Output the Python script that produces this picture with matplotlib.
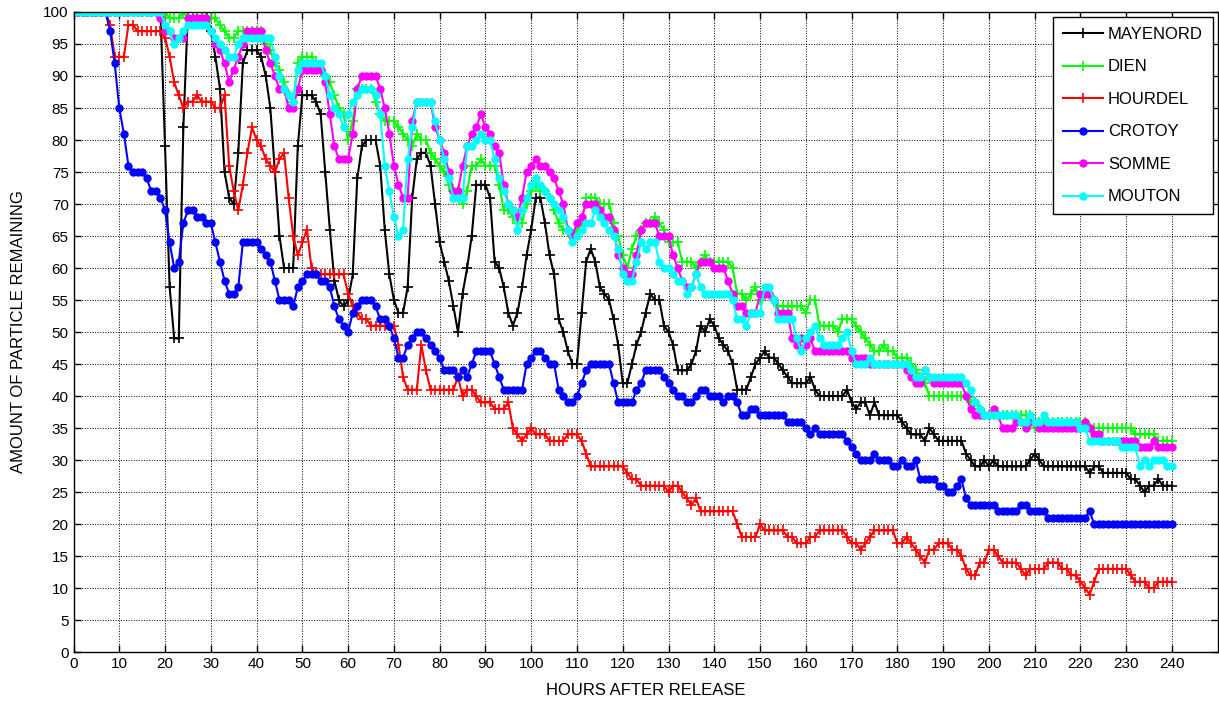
import numpy as np
import matplotlib
matplotlib.use('Agg')
import matplotlib.pyplot as plt

plt.rcParams['font.family'] = ['Liberation Sans', 'DejaVu Sans']

hours = np.arange(0, 241)

mayenord = [
    100, 100, 100, 100, 100, 100, 100, 100, 100, 100,
    100, 100, 100, 100, 100, 100, 100, 100, 100, 100,
    79, 57, 49, 49, 82, 100, 100, 100, 100, 100,
    97, 93, 88, 75, 71, 70, 78, 92, 94, 94,
    94, 93, 90, 85, 75, 65, 60, 60, 60, 79,
    87, 87, 87, 86, 84, 75, 66, 58, 55, 54,
    55, 59, 74, 79, 80, 80, 80, 76, 66, 59,
    55, 53, 53, 57, 71, 77, 78, 78, 76, 70,
    64, 61, 58, 54, 50, 56, 60, 65, 73, 73,
    73, 71, 61, 60, 57, 53, 51, 53, 57, 62,
    66, 71, 71, 67, 62, 59, 52, 50, 47, 45,
    45, 53, 61, 63, 61, 57, 56, 55, 52, 48,
    42, 42, 45, 48, 50, 53, 56, 55, 55, 51,
    50, 48, 44, 44, 44, 45, 47, 51, 50, 52,
    51, 49, 48, 47, 45, 41, 41, 41, 43, 45,
    46, 47, 46, 46, 45, 44, 43, 42, 42, 42,
    42, 43, 41, 40, 40, 40, 40, 40, 40, 41,
    39, 38, 39, 39, 37, 39, 37, 37, 37, 37,
    37, 36, 35, 34, 34, 34, 33, 35, 34, 33,
    33, 33, 33, 33, 33, 31, 30, 29, 29, 30,
    29, 30, 29, 29, 29, 29, 29, 29, 29, 30,
    31, 30, 29, 29, 29, 29, 29, 29, 29, 29,
    29, 29, 28, 29, 29, 28, 28, 28, 28, 28,
    28, 27, 27, 26, 25, 26, 26, 27, 26, 26,
    26]

dien = [
    100, 100, 100, 100, 100, 100, 100, 100, 100, 100,
    100, 100, 100, 100, 100, 100, 100, 100, 100, 100,
    100, 99, 99, 99, 100, 99, 99, 99, 99, 99,
    99, 99, 98, 97, 96, 96, 97, 97, 97, 97,
    97, 97, 95, 94, 92, 91, 89, 87, 86, 92,
    93, 93, 93, 92, 91, 90, 89, 87, 85, 84,
    80, 83, 88, 88, 88, 88, 86, 84, 83, 83,
    83, 82, 81, 80, 79, 81, 80, 80, 78, 77,
    76, 75, 73, 72, 72, 70, 72, 76, 76, 77,
    76, 76, 76, 73, 69, 69, 68, 67, 67, 70,
    72, 73, 72, 72, 71, 69, 67, 66, 66, 65,
    66, 67, 71, 71, 71, 70, 70, 70, 67, 65,
    62, 60, 63, 65, 66, 67, 67, 68, 67, 66,
    64, 64, 64, 61, 61, 61, 60, 61, 62, 61,
    61, 61, 61, 61, 60, 56, 56, 55, 56, 57,
    55, 56, 56, 55, 54, 54, 54, 54, 54, 54,
    53, 55, 55, 51, 51, 51, 51, 50, 52, 52,
    52, 51, 50, 49, 48, 47, 47, 48, 47, 47,
    46, 46, 46, 45, 44, 43, 42, 40, 40, 40,
    40, 40, 40, 40, 40, 40, 39, 39, 38, 37,
    37, 37, 37, 37, 37, 37, 37, 37, 37, 37,
    35, 36, 36, 36, 36, 36, 36, 36, 36, 36,
    36, 36, 35, 35, 35, 35, 35, 35, 35, 35,
    35, 35, 34, 34, 34, 34, 34, 33, 33, 33,
    33]

hourdel = [
    100, 100, 100, 100, 100, 100, 100, 100, 98, 93,
    93, 93, 98, 98, 97, 97, 97, 97, 97, 97,
    96, 93, 89, 87, 85, 86, 86, 87, 86, 86,
    86, 85, 85, 87, 76, 72, 69, 73, 78, 82,
    80, 79, 77, 76, 75, 77, 78, 71, 65, 62,
    64, 66, 60, 59, 59, 59, 59, 59, 59, 59,
    56, 54, 53, 52, 52, 51, 51, 51, 51, 51,
    51, 48, 43, 41, 41, 41, 48, 44, 41, 41,
    41, 41, 41, 41, 43, 40, 41, 41, 40, 39,
    39, 39, 38, 38, 38, 39, 35, 34, 33, 34,
    35, 34, 34, 34, 33, 33, 33, 33, 34, 34,
    34, 33, 31, 29, 29, 29, 29, 29, 29, 29,
    29, 28, 27, 27, 26, 26, 26, 26, 26, 26,
    25, 26, 26, 25, 24, 23, 24, 22, 22, 22,
    22, 22, 22, 22, 22, 20, 18, 18, 18, 18,
    20, 19, 19, 19, 19, 19, 18, 18, 17, 17,
    17, 18, 18, 19, 19, 19, 19, 19, 19, 18,
    17, 17, 16, 17, 18, 19, 19, 19, 19, 19,
    17, 17, 18, 17, 16, 15, 14, 16, 16, 17,
    17, 17, 16, 16, 15, 13, 12, 12, 14, 14,
    16, 16, 15, 14, 14, 14, 14, 13, 12, 13,
    13, 13, 13, 14, 14, 14, 13, 13, 12, 12,
    11, 10, 9, 11, 13, 13, 13, 13, 13, 13,
    13, 12, 11, 11, 11, 10, 10, 11, 11, 11,
    11]

crotoy = [
    100, 100, 100, 100, 100, 100, 100, 100, 97, 92,
    85, 81, 76, 75, 75, 75, 74, 72, 72, 71,
    69, 64, 60, 61, 67, 69, 69, 68, 68, 67,
    67, 64, 61, 58, 56, 56, 57, 64, 64, 64,
    64, 63, 62, 61, 58, 55, 55, 55, 54, 57,
    58, 59, 59, 59, 58, 58, 57, 54, 52, 51,
    50, 53, 54, 55, 55, 55, 54, 52, 52, 51,
    49, 46, 46, 48, 49, 50, 50, 49, 48, 47,
    46, 44, 44, 44, 43, 44, 43, 45, 47, 47,
    47, 47, 45, 43, 41, 41, 41, 41, 41, 45,
    46, 47, 47, 46, 45, 45, 41, 40, 39, 39,
    40, 42, 44, 45, 45, 45, 45, 45, 42, 39,
    39, 39, 39, 41, 42, 44, 44, 44, 44, 43,
    42, 41, 40, 40, 39, 39, 40, 41, 41, 40,
    40, 40, 39, 40, 40, 39, 37, 37, 38, 38,
    37, 37, 37, 37, 37, 37, 36, 36, 36, 36,
    35, 34, 35, 34, 34, 34, 34, 34, 34, 33,
    32, 31, 30, 30, 30, 31, 30, 30, 30, 29,
    29, 30, 29, 29, 30, 27, 27, 27, 27, 26,
    26, 25, 25, 26, 27, 24, 23, 23, 23, 23,
    23, 23, 22, 22, 22, 22, 22, 23, 23, 22,
    22, 22, 22, 21, 21, 21, 21, 21, 21, 21,
    21, 21, 22, 20, 20, 20, 20, 20, 20, 20,
    20, 20, 20, 20, 20, 20, 20, 20, 20, 20,
    20]

somme = [
    100, 100, 100, 100, 100, 100, 100, 100, 100, 100,
    100, 100, 100, 100, 100, 100, 100, 100, 100, 99,
    97, 97, 96, 96, 96, 99, 99, 99, 99, 99,
    97, 95, 94, 92, 89, 91, 93, 95, 97, 97,
    97, 97, 94, 92, 90, 88, 88, 85, 85, 88,
    91, 91, 91, 91, 91, 89, 84, 79, 77, 77,
    77, 81, 88, 90, 90, 90, 90, 88, 85, 81,
    76, 73, 71, 71, 83, 86, 86, 86, 86, 82,
    80, 78, 75, 72, 72, 76, 79, 81, 82, 84,
    82, 81, 79, 78, 73, 70, 69, 68, 71, 75,
    76, 77, 76, 76, 75, 74, 72, 70, 66, 65,
    67, 68, 70, 70, 70, 69, 68, 68, 66, 62,
    60, 59, 59, 62, 66, 67, 67, 67, 65, 65,
    65, 62, 60, 58, 57, 57, 59, 61, 61, 61,
    60, 60, 60, 58, 56, 54, 54, 53, 53, 53,
    56, 56, 56, 55, 53, 53, 53, 49, 48, 49,
    48, 49, 47, 47, 47, 47, 47, 47, 47, 47,
    46, 46, 46, 46, 45, 45, 45, 45, 45, 45,
    45, 45, 44, 43, 42, 42, 44, 43, 42, 42,
    42, 42, 42, 42, 42, 40, 38, 37, 37, 37,
    37, 38, 37, 35, 35, 35, 36, 36, 35, 36,
    36, 35, 35, 35, 35, 35, 35, 35, 35, 35,
    35, 36, 35, 34, 34, 33, 33, 33, 33, 33,
    33, 33, 33, 32, 32, 32, 33, 32, 32, 32,
    32]

mouton = [
    100, 100, 100, 100, 100, 100, 100, 100, 100, 100,
    100, 100, 100, 100, 100, 100, 100, 100, 100, 100,
    98, 97, 95, 96, 97, 98, 98, 98, 98, 98,
    97, 96, 95, 94, 93, 93, 95, 96, 96, 96,
    96, 96, 96, 96, 93, 90, 88, 87, 86, 91,
    92, 92, 92, 92, 92, 90, 87, 85, 84, 82,
    84, 86, 87, 88, 88, 88, 87, 84, 76, 72,
    68, 65, 66, 77, 82, 86, 86, 86, 86, 83,
    80, 77, 74, 71, 71, 71, 79, 79, 80, 81,
    80, 80, 77, 74, 72, 70, 69, 66, 69, 71,
    73, 74, 73, 72, 71, 70, 69, 68, 66, 64,
    65, 66, 67, 67, 69, 68, 67, 66, 65, 63,
    59, 58, 58, 61, 64, 63, 64, 64, 61, 60,
    60, 59, 58, 58, 56, 57, 59, 57, 56, 56,
    56, 56, 56, 56, 55, 52, 52, 51, 53, 53,
    53, 57, 57, 55, 52, 52, 52, 52, 49, 47,
    49, 50, 51, 49, 48, 48, 48, 48, 49, 50,
    47, 45, 45, 45, 46, 45, 45, 45, 45, 45,
    45, 45, 45, 44, 43, 43, 44, 43, 43, 43,
    43, 43, 43, 43, 43, 42, 41, 39, 38, 37,
    37, 37, 37, 37, 37, 37, 37, 36, 36, 37,
    36, 36, 37, 36, 36, 36, 36, 36, 36, 36,
    35, 35, 33, 33, 33, 33, 33, 33, 33, 32,
    32, 32, 32, 29, 30, 29, 30, 30, 30, 29,
    29]

names = ['MAYENORD', 'DIEN', 'HOURDEL', 'CROTOY', 'SOMME', 'MOUTON']
series = [mayenord, dien, hourdel, crotoy, somme, mouton]
colors = ['#000000', '#00ff00', '#ff0000', '#0000ff', '#ff00ff', '#00ffff']
markers = ['+', '+', '+', 'o', 'o', 'o']

fig = plt.figure(figsize=(12.19, 7.05), dpi=100)
ax = fig.add_axes([0.0603, 0.075, 0.9387, 0.908])

for name, vals, c, m in zip(names, series, colors, markers):
    if m == '+':
        ax.plot(hours, vals, color=c, marker='+', markersize=7,
                markeredgewidth=1.2, linewidth=1.5, label=name)
    else:
        ax.plot(hours, vals, color=c, marker='o', markersize=5,
                linewidth=1.5, label=name)

ax.set_xlim(0, 250)
ax.set_ylim(0, 100)
ax.set_xticks(np.arange(0, 241, 10))
ax.set_yticks(np.arange(0, 101, 5))
ax.tick_params(direction='in', top=True, right=True, length=5,
               labelsize=11, width=1)
ax.grid(True, linestyle=':', color='k', linewidth=0.7)
ax.set_xlabel('HOURS AFTER RELEASE', fontsize=12, labelpad=9)
ax.set_ylabel('AMOUNT OF PARTICLE REMAINING', fontsize=12, labelpad=12)
for s in ax.spines.values():
    s.set_linewidth(1)

leg = ax.legend(loc='upper right', fontsize=12, numpoints=1,
                handlelength=2.4, handletextpad=0.3, fancybox=False,
                framealpha=1, edgecolor='k', borderaxespad=0.3,
                labelspacing=1.05, borderpad=0.6)
leg.get_frame().set_linewidth(1)

fig.savefig('out.png', dpi=100)
